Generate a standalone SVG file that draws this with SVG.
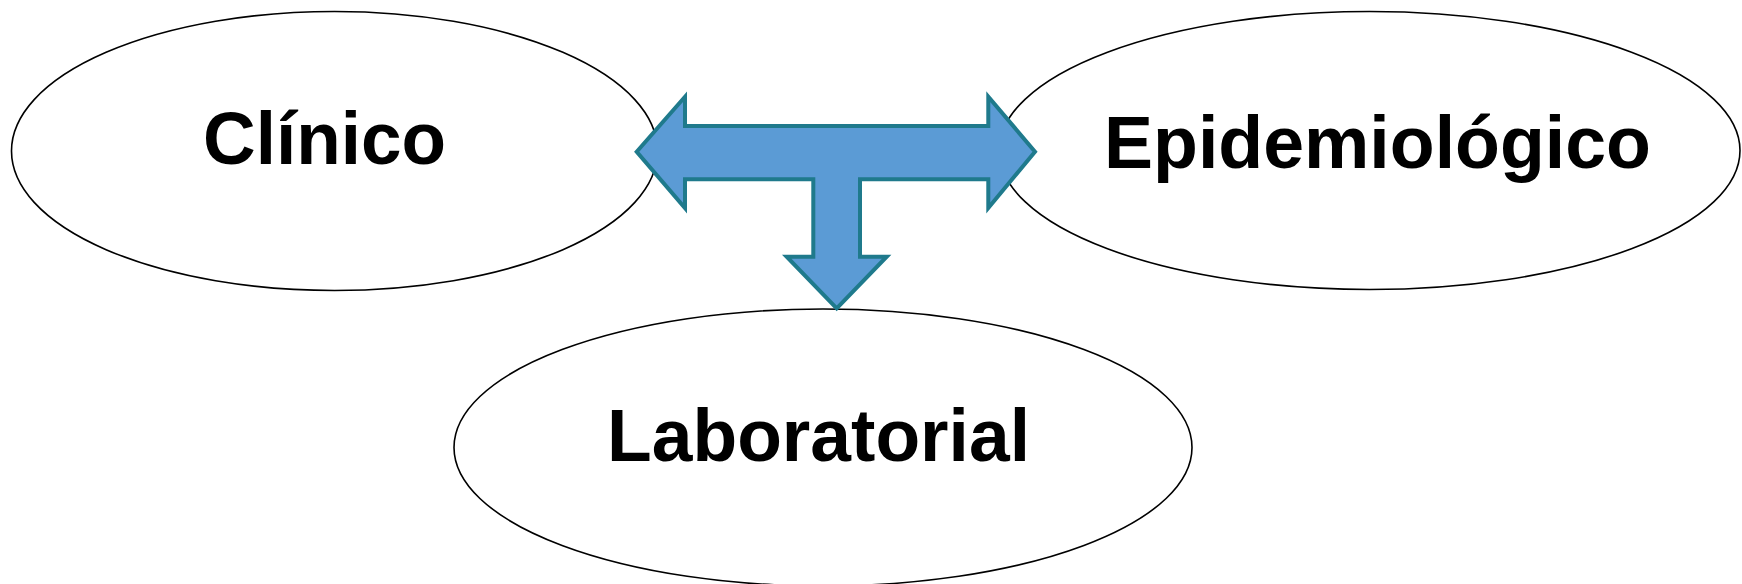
<svg xmlns="http://www.w3.org/2000/svg" width="1742" height="584" viewBox="0 0 1742 584">
<style>
.node{fill:#ffffff;stroke:#000000;stroke-width:1.6}
.lbl{font-family:"Liberation Sans",Arial,sans-serif;font-weight:bold;font-size:75px;fill:#000000}
.arrow{fill:#5B9BD5;stroke:#1F7A8C;stroke-width:4;stroke-linejoin:miter}
</style>
<rect width="1742" height="584" fill="#ffffff"/>
<g id="node-clinico">
<ellipse class="node" cx="334.5" cy="151" rx="323" ry="139.5"/>
<text class="lbl" x="203" y="164" textLength="243" lengthAdjust="spacingAndGlyphs">Clínico</text>
</g>
<g id="node-epidemiologico">
<ellipse class="node" cx="1369.5" cy="150.5" rx="370.5" ry="139"/>
<text class="lbl" x="1104" y="167.5" textLength="547" lengthAdjust="spacingAndGlyphs">Epidemiológico</text>
</g>
<g id="node-laboratorial">
<ellipse class="node" cx="823" cy="447.5" rx="369" ry="138.5"/>
<text class="lbl" x="607" y="461" textLength="423" lengthAdjust="spacingAndGlyphs">Laboratorial</text>
</g>
<g id="connectors">
<polygon class="arrow" points="636.7,151.7 685,96.7 685,126 988.3,126 988.3,96.7 1035,151.7 988.3,208 988.3,179.3 860,179.3 860,256.7 886.7,256.7 836.7,308.3 786.7,256.7 813.3,256.7 813.3,179.3 685,179.3 685,208"/>
</g>
</svg>
